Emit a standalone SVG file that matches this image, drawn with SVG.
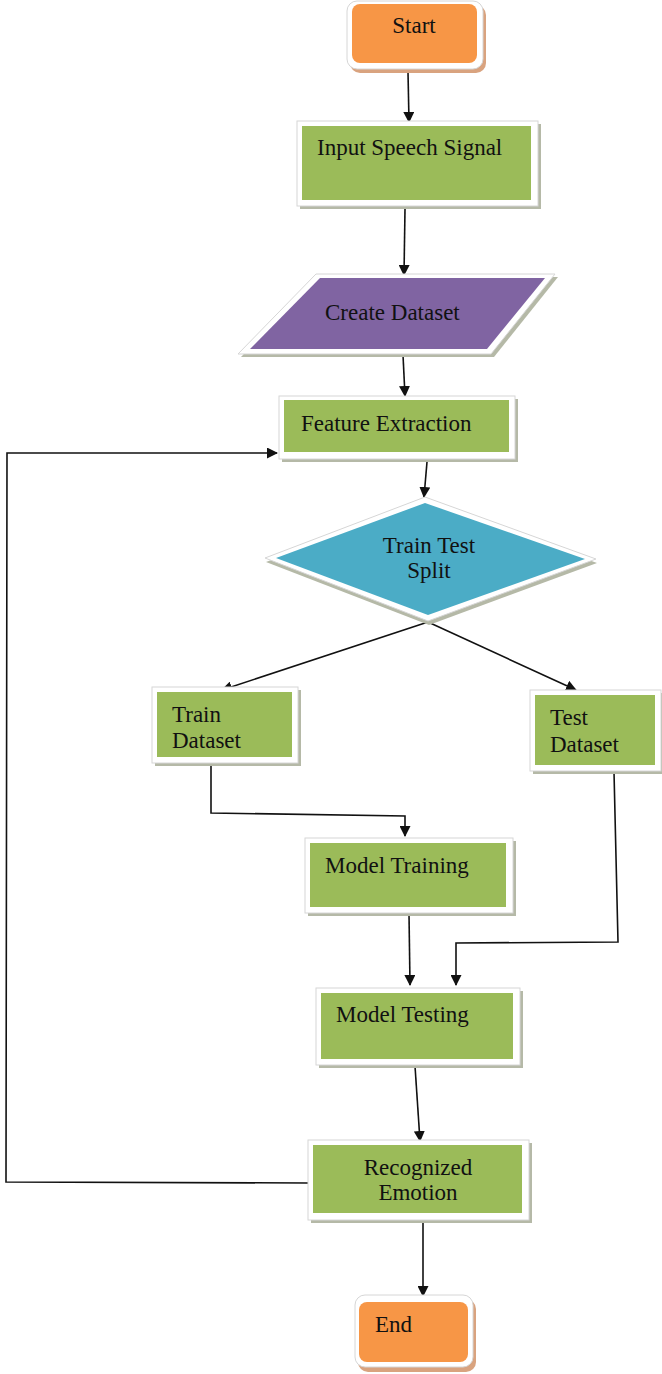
<svg xmlns="http://www.w3.org/2000/svg" width="662" height="1374" viewBox="0 0 662 1374">
<style>
.bg{fill:#fff}
.frame{fill:#fff;stroke:#d6d6d6;stroke-width:1}
.sh{fill:#b5b9a7}
.sho{fill:#d9a37f}
.green{fill:#9BBB59}
.orange{fill:#F79646}
.purple{fill:#8064A2}
.blue{fill:#4BACC6}
.t{font-family:"Liberation Serif","Times New Roman",serif;font-size:23px;fill:#111}
.c{stroke:#111;stroke-width:1.6;fill:none;marker-end:url(#ah)}
.l{stroke:#111;stroke-width:1.6;fill:none}
</style>
<defs>
<marker id="ah" markerUnits="userSpaceOnUse" markerWidth="11" markerHeight="11" refX="10" refY="5.5" orient="auto">
<path d="M0,0 L11,5.5 L0,11 z" fill="#111"/>
</marker>
</defs>
<rect class="bg" x="0" y="0" width="662" height="1374"/>

<g id="connectors">
<path class="c" d="M408,72 L409,122"/>
<path class="c" d="M405,209 L404,275"/>
<path class="c" d="M403,355 L405,396"/>
<path class="c" d="M427,462 L424,497"/>
<path class="c" d="M428,622 L222,690"/>
<path class="c" d="M428,622 L576,690"/>
<path class="c" d="M211,764 L211,813 L405,816 L405,836"/>
<path class="c" d="M409,914 L410,985"/>
<path class="c" d="M614,772 L618,942 L456,943 L456,985"/>
<path class="c" d="M415,1066 L420,1141"/>
<path class="c" d="M423,1221 L423,1296"/>
<path class="c" d="M308,1183 L6,1182 L7,453 L277,453"/>
</g>

<g id="start">
<rect class="sho" x="350" y="5" width="136" height="68" rx="10"/>
<rect class="frame" x="347" y="1" width="136" height="68" rx="10"/>
<rect class="orange" x="352" y="4" width="125" height="59" rx="8"/>
<text class="t" x="414" y="33" text-anchor="middle">Start</text>
</g>

<g id="input">
<rect class="sh" x="300" y="124" width="241" height="85"/>
<rect class="frame" x="297" y="121" width="241" height="85"/>
<rect class="green" x="302" y="126" width="229" height="74"/>
<text class="t" x="317" y="155">Input Speech Signal</text>
</g>

<g id="create">
<polygon class="sh" points="319,277 558,277 494,357 241,357"/>
<polygon class="frame" points="316,274 555,274 491,354 238,354"/>
<polygon class="purple" points="320,278 545,278 487,349 250,349"/>
<text class="t" x="325" y="320">Create Dataset</text>
</g>

<g id="feature">
<rect class="sh" x="282" y="399" width="236" height="63"/>
<rect class="frame" x="279" y="396" width="236" height="63"/>
<rect class="green" x="284" y="400" width="225" height="52"/>
<text class="t" x="301" y="431">Feature Extraction</text>
</g>

<g id="split">
<polygon class="sh" points="266,562 426,501 597,563 429,625"/>
<polygon class="frame" points="265,558 425,497 596,559 428,621"/>
<polygon class="blue" points="276,558 425,503 585,559 428,615"/>
<text class="t" x="429" y="553" text-anchor="middle">Train Test</text>
<text class="t" x="429" y="578" text-anchor="middle">Split</text>
</g>

<g id="train">
<rect class="sh" x="155" y="690" width="146" height="76"/>
<rect class="frame" x="152" y="687" width="146" height="76"/>
<rect class="green" x="157" y="692" width="135" height="65"/>
<text class="t" x="172" y="722">Train</text>
<text class="t" x="172" y="748">Dataset</text>
</g>

<g id="test">
<rect class="sh" x="533" y="693" width="131" height="81"/>
<rect class="frame" x="530" y="690" width="131" height="81"/>
<rect class="green" x="535" y="695" width="120" height="70"/>
<text class="t" x="550" y="725">Test</text>
<text class="t" x="550" y="752">Dataset</text>
</g>

<g id="training">
<rect class="sh" x="308" y="841" width="208" height="75"/>
<rect class="frame" x="305" y="838" width="208" height="75"/>
<rect class="green" x="310" y="843" width="196" height="64"/>
<text class="t" x="325" y="873">Model Training</text>
</g>

<g id="testing">
<rect class="sh" x="319" y="991" width="204" height="77"/>
<rect class="frame" x="316" y="988" width="204" height="77"/>
<rect class="green" x="321" y="993" width="192" height="66"/>
<text class="t" x="336" y="1022">Model Testing</text>
</g>

<g id="recognized">
<rect class="sh" x="311" y="1143" width="221" height="80"/>
<rect class="frame" x="308" y="1140" width="221" height="80"/>
<rect class="green" x="313" y="1145" width="209" height="68"/>
<text class="t" x="418" y="1175" text-anchor="middle">Recognized</text>
<text class="t" x="418" y="1200" text-anchor="middle">Emotion</text>
</g>

<g id="end">
<rect class="sho" x="358" y="1299" width="118" height="73" rx="10"/>
<rect class="frame" x="355" y="1295" width="118" height="72" rx="10"/>
<rect class="orange" x="359" y="1302" width="109" height="60" rx="8"/>
<text class="t" x="375" y="1332">End</text>
</g>
</svg>
